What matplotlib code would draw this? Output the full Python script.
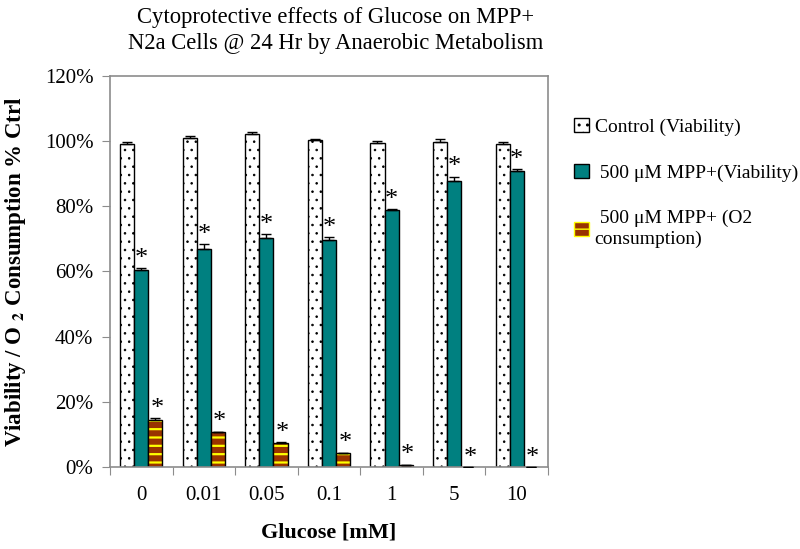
import numpy as np
import matplotlib
matplotlib.use("Agg")
from matplotlib import pyplot as plt
from matplotlib.patches import Patch

# data (percent of control)
glucose = ["0", "0.01", "0.05", "0.1", "1", "5", "10"]
control = [99.0, 101.0, 102.2, 100.3, 99.3, 99.8, 99.2]
control_err = [0.6, 0.6, 0.6, 0.5, 0.7, 1.0, 0.6]
mpp = [60.5, 66.8, 70.4, 69.8, 78.8, 87.8, 90.8]
mpp_err = [0.6, 1.5, 1.0, 0.7, 0.3, 1.3, 0.5]
o2 = [14.3, 10.6, 7.4, 4.2, 0.6, 0.0, 0.0]
o2_err = [0.6, 0.2, 0.2, 0.2, 0.1, 0.0, 0.0]

plt.rcParams['font.family'] = ['Liberation Serif', 'DejaVu Serif']
plt.rcParams['mathtext.fontset'] = 'stix'

fig = plt.figure(figsize=(8, 5.49), dpi=100)
ax = fig.add_axes([0.1375, 0.1494, 0.5475, 0.7122])

x = np.arange(len(glucose))
w = 0.225
grey = '#8c8c8c'

# control: white with black dots
with plt.rc_context({'hatch.linewidth': 0.6}):
    ax.bar(x - w, control, w, color='white', edgecolor='black', hatch='..', linewidth=1.0, zorder=2)
ax.errorbar(x - w, control, yerr=[np.zeros(len(x)), control_err], fmt='none',
            ecolor='black', elinewidth=1, capsize=3.5, capthick=1, zorder=3)

# MPP+ viability: teal
ax.bar(x, mpp, w, color='#008080', edgecolor='black', linewidth=1.0, zorder=2)
ax.errorbar(x, mpp, yerr=[np.zeros(len(x)), mpp_err], fmt='none',
            ecolor='black', elinewidth=1, capsize=3.5, capthick=1, zorder=3)

# MPP+ O2 consumption: brown with yellow stripes
with plt.rc_context({'hatch.linewidth': 1.6}):
    ax.bar(x + w, o2, w, color='#993300', edgecolor='#ffff00', hatch='--', linewidth=0, zorder=2)
ax.bar(x + w, o2, w, color='none', edgecolor='black', linewidth=1.0, zorder=2.5)
ax.errorbar(x + w, o2, yerr=[np.zeros(len(x)), o2_err], fmt='none',
            ecolor='black', elinewidth=1, capsize=3.5, capthick=1, zorder=3)

# significance stars
for i in range(len(x)):
    ax.text(x[i], mpp[i] + mpp_err[i] - 0.5, '*', ha='center', va='bottom', fontsize=19)
    ax.text(x[i] + w + 0.03, o2[i] + o2_err[i] - 0.5, '*', ha='center', va='bottom', fontsize=19)

ax.set_xlim(-0.5, len(x) - 0.5)
ax.set_ylim(0, 120)
ax.set_yticks(np.arange(0, 121, 20))
ax.set_yticklabels(['%d%%' % v for v in range(0, 121, 20)], fontsize=15)
ax.set_xticks(np.arange(-0.5, len(x), 1.0))
ax.set_xticklabels([])
ax.set_xticks(x, minor=True)
ax.set_xticklabels(glucose, minor=True, fontsize=15)
ax.tick_params(axis='x', which='minor', length=0, pad=14)
ax.tick_params(axis='x', which='major', length=6, color=grey, direction='out')
ax.tick_params(axis='y', length=6, color=grey, direction='out', pad=6)
for s in ax.spines.values():
    s.set_color(grey)
    s.set_linewidth(1.2)

ax.set_xlabel('Glucose [mM]', fontsize=16, fontweight='bold', labelpad=12)
ax.set_ylabel('Viability / O $_{\\mathbf{2}}$ Consumption % Ctrl', fontsize=16.5,
              fontweight='bold', labelpad=12)
fig.text(0.419, 0.988, 'Cytoprotective effects of Glucose on MPP+\nN2a Cells @ 24 Hr by Anaerobic Metabolism',
         ha='center', va='top', fontsize=16.3, linespacing=1.35)

handles = [Patch(facecolor='white', edgecolor='black', hatch='..'),
           Patch(facecolor='#008080', edgecolor='black'),
           Patch(facecolor='#993300', edgecolor='#ffff00', hatch='--')]
labels = ['Control (Viability)', ' 500 μM MPP+(Viability)', ' 500 μM MPP+ (O2\nconsumption)']
leg = fig.legend(handles, labels, loc='upper left', bbox_to_anchor=(0.708, 0.8), frameon=False,
                 fontsize=14, handlelength=0.75, handleheight=0.75, handletextpad=0.3,
                 labelspacing=1.45, borderaxespad=0)
for t in leg.get_texts():
    t.set_linespacing(1.3)

fig.savefig('out.png', dpi=100)
